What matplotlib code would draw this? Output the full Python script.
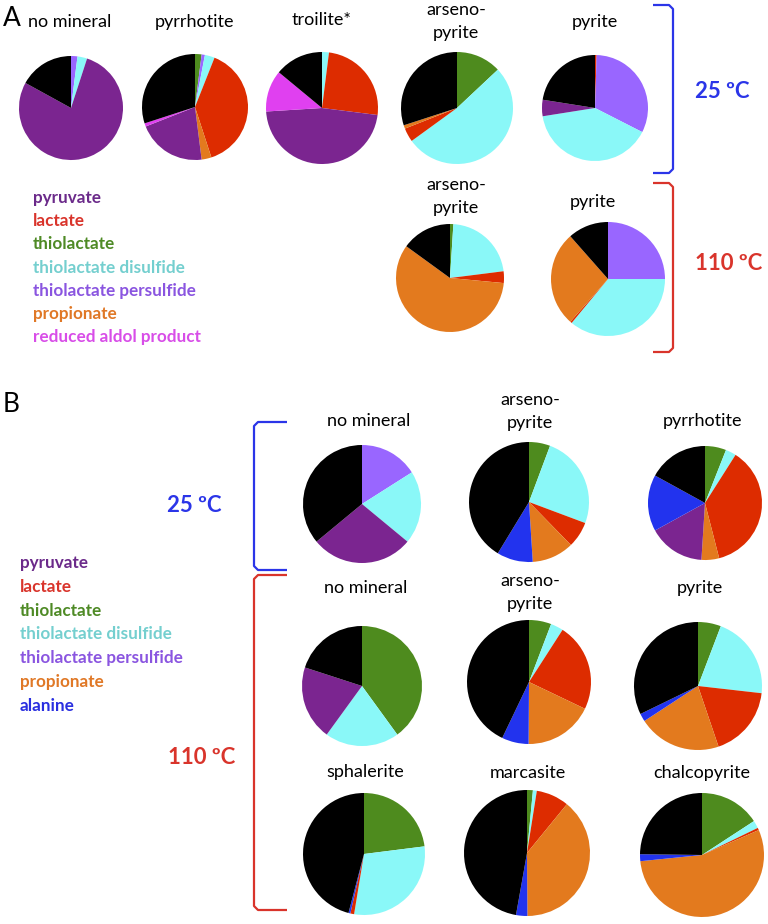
import matplotlib
matplotlib.use('Agg')
import matplotlib.pyplot as plt

W, H = 768, 924

# colours of the product classes
colors = {
    'pyruvate': '#7B2590',
    'lactate': '#DD2C00',
    'thiolactate': '#4E8B1E',
    'disulfide': '#8AF8F8',
    'persulfide': '#9966FF',
    'propionate': '#E37A1E',
    'aldol': '#E040F0',
    'alanine': '#2233EE',
    'other': '#000000',
}
text_colors = {
    'pyruvate': '#6B2A8A',
    'lactate': '#D9342B',
    'thiolactate': '#4E8A25',
    'disulfide': '#74CFCF',
    'persulfide': '#8A55E0',
    'propionate': '#E07826',
    'aldol': '#D84DE8',
    'alanine': '#2A2FE0',
}

legend_a_keys = ['pyruvate', 'lactate', 'thiolactate', 'disulfide', 'persulfide', 'propionate', 'aldol']
legend_a_text = ['pyruvate', 'lactate', 'thiolactate', 'thiolactate disulfide',
                 'thiolactate persulfide', 'propionate', 'reduced aldol product']
legend_b_keys = ['pyruvate', 'lactate', 'thiolactate', 'disulfide', 'persulfide', 'propionate', 'alanine']
legend_b_text = ['pyruvate', 'lactate', 'thiolactate', 'thiolactate disulfide',
                 'thiolactate persulfide', 'propionate', 'alanine']

# ---- panel A, 25 C ----
a25_nomin_parts = ['persulfide', 'disulfide', 'pyruvate', 'other']
a25_nomin_vals = [2, 3, 78, 17]
a25_pyrr_parts = ['thiolactate', 'persulfide', 'disulfide', 'lactate', 'propionate', 'pyruvate', 'aldol', 'other']
a25_pyrr_vals = [2, 1, 3, 39, 3, 21, 1, 30]
a25_troi_parts = ['disulfide', 'lactate', 'pyruvate', 'aldol', 'other']
a25_troi_vals = [2, 25, 47, 12, 14]
a25_arseno_parts = ['thiolactate', 'disulfide', 'lactate', 'propionate', 'other']
a25_arseno_vals = [13, 52, 4, 1, 30]
a25_pyrite_parts = ['lactate', 'persulfide', 'disulfide', 'pyruvate', 'other']
a25_pyrite_vals = [0.5, 32, 40, 5, 22.5]

# ---- panel A, 110 C ----
a110_arseno_parts = ['thiolactate', 'disulfide', 'lactate', 'propionate', 'other']
a110_arseno_vals = [1, 22, 3.5, 58.5, 15]
a110_pyrite_parts = ['persulfide', 'disulfide', 'lactate', 'propionate', 'other']
a110_pyrite_vals = [25, 36, 0.5, 27, 11.5]

# ---- panel B, 25 C ----
b25_nomin_parts = ['persulfide', 'disulfide', 'pyruvate', 'other']
b25_nomin_vals = [16, 20, 28, 36]
b25_arseno_parts = ['thiolactate', 'disulfide', 'lactate', 'propionate', 'alanine', 'other']
b25_arseno_vals = [5.7, 25, 7, 11.3, 9.7, 41.3]
b25_pyrr_parts = ['thiolactate', 'disulfide', 'lactate', 'propionate', 'pyruvate', 'alanine', 'other']
b25_pyrr_vals = [6, 3, 37, 5, 16, 16, 17]

# ---- panel B, 110 C ----
b110_nomin_parts = ['thiolactate', 'disulfide', 'pyruvate', 'other']
b110_nomin_vals = [40, 20, 20, 20]
b110_arseno_parts = ['thiolactate', 'disulfide', 'lactate', 'propionate', 'alanine', 'other']
b110_arseno_vals = [5.8, 3.3, 23, 18, 7, 42.9]
b110_pyrite_parts = ['thiolactate', 'disulfide', 'lactate', 'propionate', 'alanine', 'other']
b110_pyrite_vals = [5.8, 21, 18, 21, 2, 32.2]
b110_sphal_parts = ['thiolactate', 'disulfide', 'lactate', 'alanine', 'other']
b110_sphal_vals = [23, 29.6, 1, 0.5, 45.9]
b110_marc_parts = ['thiolactate', 'disulfide', 'lactate', 'propionate', 'alanine', 'other']
b110_marc_vals = [1.5, 1, 8.4, 39, 2.9, 47.2]
b110_chalco_parts = ['thiolactate', 'disulfide', 'lactate', 'propionate', 'alanine', 'other']
b110_chalco_vals = [15.8, 2, 0.6, 55, 1.8, 24.8]

plt.rcParams['font.family'] = ['Lato', 'DejaVu Sans']

fig = plt.figure(figsize=(W / 100, H / 100), dpi=100)
bg = fig.add_axes([0, 0, 1, 1])
bg.set_xlim(0, W)
bg.set_ylim(H, 0)
bg.axis('off')


def draw_pie(cx, cy, r, parts, vals):
    ax = fig.add_axes([(cx - r) / W, 1 - (cy + r) / H, 2 * r / W, 2 * r / H])
    ax.pie(vals, colors=[colors[p] for p in parts], startangle=90, counterclock=False,
           wedgeprops=dict(linewidth=0))
    ax.set_xlim(-1.0, 1.0)
    ax.set_ylim(-1.0, 1.0)
    ax.axis('off')


def label(x, y, s, size=13):
    # one text per line so the line gap matches the reference
    for j, line in enumerate(s.split('\n')):
        bg.text(x, y + j * 23, line, ha='center', va='center', fontsize=size, color='black')


def bracket(x_open, x_spine, y0, y1, color):
    d = 4 if x_spine > x_open else -4
    xs = [x_open, x_spine - d, x_spine, x_spine, x_spine - d, x_open]
    ys = [y0, y0, y0 + 4, y1 - 4, y1, y1]
    bg.plot(xs, ys, color=color, lw=1.6, solid_joinstyle='round', solid_capstyle='butt')


blue = '#2B35E8'
red = '#D9342B'
deg = 'º'

# panel A
bg.text(3, 18, 'A', fontsize=19, va='center', ha='left')
draw_pie(71, 108, 52, a25_nomin_parts, a25_nomin_vals)
label(70, 22, 'no mineral')
draw_pie(195, 107, 53, a25_pyrr_parts, a25_pyrr_vals)
label(195, 22, 'pyrrhotite')
draw_pie(322, 108, 56, a25_troi_parts, a25_troi_vals)
label(322, 20, 'troilite*')
draw_pie(457, 108, 56, a25_arseno_parts, a25_arseno_vals)
label(456, 10, 'arseno-\npyrite')
draw_pie(595, 108, 53, a25_pyrite_parts, a25_pyrite_vals)
label(595, 22, 'pyrite')

draw_pie(450, 278, 54, a110_arseno_parts, a110_arseno_vals)
label(456, 185, 'arseno-\npyrite')
draw_pie(608, 279, 57, a110_pyrite_parts, a110_pyrite_vals)
label(593, 202, 'pyrite')

bracket(653, 673, 5, 173, blue)
bracket(653, 673, 183, 352, red)
bg.text(722, 92, '25 ' + deg + 'C', color=blue, fontsize=16, fontweight='bold', ha='center', va='center')
bg.text(729, 263, '110 ' + deg + 'C', color=red, fontsize=16, fontweight='bold', ha='center', va='center')

for i, (k, t) in enumerate(zip(legend_a_keys, legend_a_text)):
    bg.text(33, 198 + i * 23.2, t, color=text_colors[k], fontsize=12.3, fontweight='bold',
            ha='left', va='center')

# panel B
bg.text(3, 405, 'B', fontsize=19, va='center', ha='left')
draw_pie(362, 504, 59, b25_nomin_parts, b25_nomin_vals)
label(369, 421, 'no mineral')
draw_pie(529, 502, 60, b25_arseno_parts, b25_arseno_vals)
label(530, 400, 'arseno-\npyrite')
draw_pie(705, 503, 57, b25_pyrr_parts, b25_pyrr_vals)
label(703, 421, 'pyrrhotite')

draw_pie(362, 686, 60, b110_nomin_parts, b110_nomin_vals)
label(366, 588, 'no mineral')
draw_pie(529, 682, 62, b110_arseno_parts, b110_arseno_vals)
label(530, 581, 'arseno-\npyrite')
draw_pie(698, 686, 64, b110_pyrite_parts, b110_pyrite_vals)
label(700, 588, 'pyrite')

draw_pie(364, 854, 61, b110_sphal_parts, b110_sphal_vals)
label(365, 772, 'sphalerite')
draw_pie(527, 853, 63, b110_marc_parts, b110_marc_vals)
label(528, 773, 'marcasite')
draw_pie(702, 855, 62, b110_chalco_parts, b110_chalco_vals)
label(702, 773, 'chalcopyrite')

bracket(287, 254, 422, 570, blue)
bracket(287, 254, 575, 910, red)
bg.text(194, 505, '25 ' + deg + 'C', color=blue, fontsize=16, fontweight='bold', ha='center', va='center')
bg.text(202, 757, '110 ' + deg + 'C', color=red, fontsize=16, fontweight='bold', ha='center', va='center')

for i, (k, t) in enumerate(zip(legend_b_keys, legend_b_text)):
    bg.text(20, 563 + i * 23.8, t, color=text_colors[k], fontsize=12.3, fontweight='bold',
            ha='left', va='center')

fig.savefig('out.png', dpi=100)
